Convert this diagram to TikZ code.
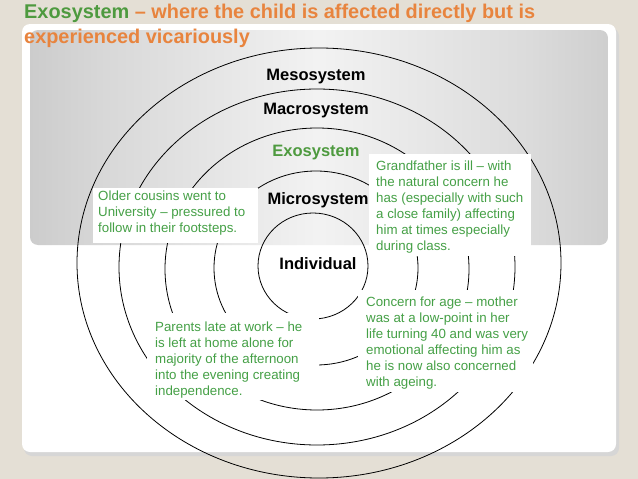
\documentclass[tikz,border=0pt]{standalone}
\usepackage{fontspec}
\setmainfont{Liberation Sans}
\usetikzlibrary{positioning}
\definecolor{slidebg}{HTML}{E4DFD5}
\definecolor{exogreen}{HTML}{4E9A3F}
\definecolor{notegreen}{HTML}{45A046}
\definecolor{titleorange}{HTML}{E8843E}
\pgfdeclarehorizontalshading{panelshade}{100bp}{color(0bp)=(black!36); color(15bp)=(black!27); color(32bp)=(black!15); color(50bp)=(black!5); color(68bp)=(black!14); color(85bp)=(black!26); color(100bp)=(black!34)}

\tikzset{
  ring/.style={draw=black, line width=0.8pt},
  syslabel/.style={font=\fontsize{16.5}{18}\selectfont\bfseries, inner sep=0pt},
  notetext/.style={font=\fontsize{13.3}{16}\selectfont, text=notegreen, align=left, anchor=north west, inner sep=0pt},
  titletext/.style={font=\fontsize{19.9}{24}\selectfont\bfseries, anchor=base west, inner sep=0pt},
}

\begin{document}
\begin{tikzpicture}[x=1pt,y=-1pt]
\fill[slidebg] (0,0) rectangle (638,479);
\useasboundingbox (0,0) rectangle (638,479);
% slide panel
\fill[black!16, rounded corners=8pt] (24,28) rectangle (619,456);
\fill[white, rounded corners=8pt] (22,24) rectangle (616,452);
\shade[rounded corners=8pt, shading=panelshade] (30,30) rectangle (608,245);
% title
\node[titletext] (title) at (24,19) {\textcolor{exogreen}{Exosystem} \textcolor{titleorange}{-- where the child is affected directly but is}};
\node[titletext, text=titleorange] (title2) at (24,43) {experienced vicariously};
% rings
\foreach \cx/\cy/\rx/\ry in {319/263/242/215, 317/267/198/178, 317/269/152/141, 316/268/102/97, 313/266/55/53}
  \draw[ring] (\cx,\cy) ellipse [x radius=\rx, y radius=\ry];
% ring labels
\node[syslabel] (meso) at (316,77) {Mesosystem};
\node[syslabel] (macro) at (316,111) {Macrosystem};
\node[syslabel, text=exogreen] (exo) at (316,153) {Exosystem};
\node[syslabel] (micro) at (318,200) {Microsystem};
\node[syslabel] (indiv) at (318,264) {Individual};
% notes
\fill[white] (93,188) rectangle (258,243);
\node[notetext] (cousins) at (98,191) {Older cousins went to\\University -- pressured to\\follow in their footsteps.};
\fill[white] (369,154) rectangle (531,256);
\node[notetext] (grandad) at (376,161) {Grandfather is ill -- with\\the natural concern he\\has (especially with such\\a close family) affecting\\him at times especially\\during class.};
\fill[white] (147,313) rectangle (319,400);
\node[notetext] (parents) at (155,322) {Parents late at work -- he\\is left at home alone for\\majority of the afternoon\\into the evening creating\\independence.};
\fill[white] (358,290) rectangle (533,392);
\node[notetext] (mother) at (366,297) {Concern for age -- mother\\was at a low-point in her\\life turning 40 and was very\\emotional affecting him as\\he is now also concerned\\with ageing.};
\end{tikzpicture}
\end{document}
